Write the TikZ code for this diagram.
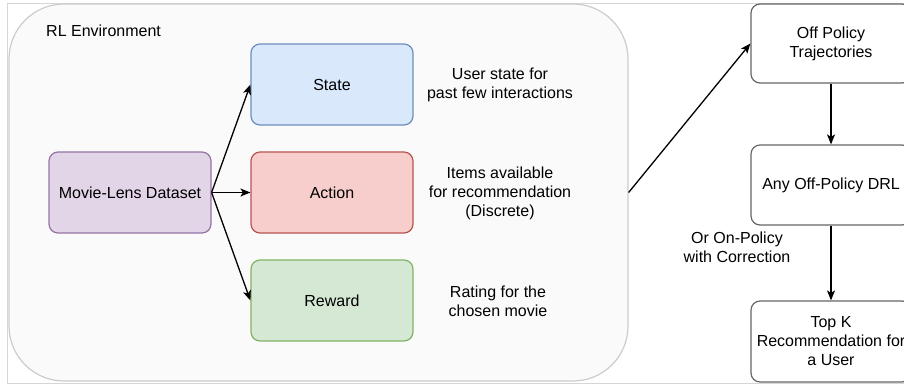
\documentclass[tikz,border=0pt]{standalone}
\usepackage{fontspec}
\setmainfont{Liberation Sans}
\usetikzlibrary{arrows.meta}

\definecolor{envfill}{HTML}{FAFAFA}
\definecolor{envline}{HTML}{CCCCCC}
\definecolor{framecol}{HTML}{D6D6D6}
\definecolor{purfill}{HTML}{E1D5E7}
\definecolor{purline}{HTML}{9673A6}
\definecolor{bluefill}{HTML}{DAE8FC}
\definecolor{blueline}{HTML}{6C8EBF}
\definecolor{redfill}{HTML}{F8CECC}
\definecolor{redline}{HTML}{B85450}
\definecolor{greenfill}{HTML}{D5E8D4}
\definecolor{greenline}{HTML}{82B366}
\definecolor{boxline}{HTML}{666666}

\begin{document}
\begin{tikzpicture}[x=1pt, y=-1pt,
    font=\fontsize{16}{19}\selectfont,
    >={Stealth[length=10pt, width=8pt, inset=2.5pt]},
    box/.style={draw, line width=1.2pt, rounded corners=9pt, align=center,
        minimum width=162pt, minimum height=81pt, inner sep=0pt},
    note/.style={align=center, inner sep=0pt},
    link/.style={->, line width=1.3pt}]
    \useasboundingbox (0,0) rectangle (904,389);

    % Screen frame
    \draw[framecol, line width=1pt] (910,3) -- (7,3) -- (7,383) -- (910,383);

    % Environment container
    \node[draw=envline, fill=envfill, line width=1.2pt, rounded corners=55pt,
        minimum width=619pt, minimum height=377pt] (env) at (318.5,192.5) {};
    \node[anchor=west, inner sep=0pt] (envlabel) at (46,31) {RL Environment};

    % Dataset and the MDP parts
    \node[box, draw=purline, fill=purfill] (data) at (130,192.5) {Movie-Lens Dataset};
    \node[box, draw=blueline, fill=bluefill] (state) at (332,84.5) {State};
    \node[box, draw=redline, fill=redfill] (action) at (332,192.5) {Action};
    \node[box, draw=greenline, fill=greenfill] (reward) at (332,300.5) {Reward};

    % Descriptions
    \node[note] (statetxt) at (500,84.5) {User state for\\past few interactions};
    \node[note] (actiontxt) at (500,193.5) {Items available\\for recommendation\\(Discrete)};
    \node[note] (rewardtxt) at (498,301) {Rating for the\\chosen movie};

    % Training pipeline
    \node[box, draw=boxline, fill=white, minimum width=160pt, minimum height=79pt] (traj) at (831,43.5) {Off Policy\\Trajectories};
    \node[box, draw=boxline, fill=white, minimum width=160pt, minimum height=80pt] (drl) at (831,185) {Any Off-Policy DRL};
    \node[box, draw=boxline, fill=white, minimum width=160pt] (topk) at (831,341.5) {Top K\\Recommendation for\\a User};
    \node[note] (onpol) at (737,247.5) {Or On-Policy\\with Correction};

    % Arrows
    \draw[link] (data.east) -- (state.west);
    \draw[link] (data.east) -- (action.west);
    \draw[link] (data.east) -- (reward.west);
    \draw[link] (env.east) -- (traj.west);
    \draw[link] (traj) -- (drl);
    \draw[link] (drl) -- (topk);
\end{tikzpicture}
\end{document}
